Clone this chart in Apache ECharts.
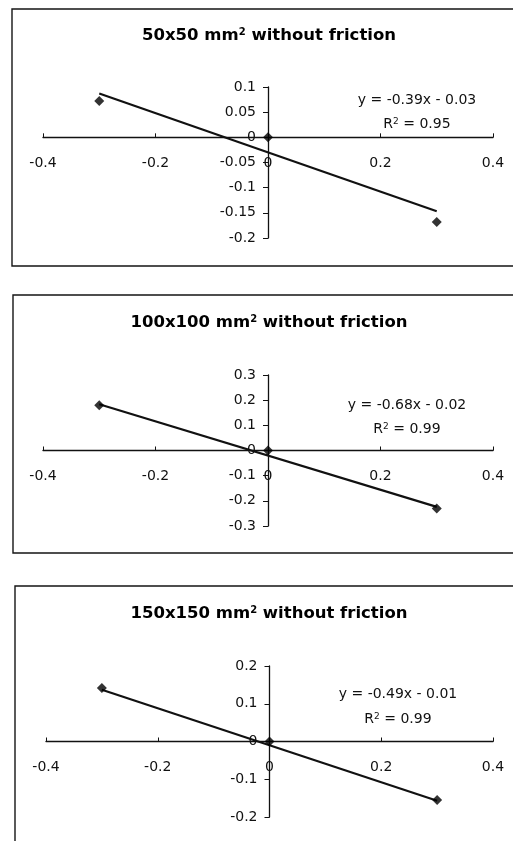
<!DOCTYPE html>
<html><head><meta charset="utf-8">
<script src="https://cdn.jsdelivr.net/npm/echarts@6/dist/echarts.min.js"></script>
<style>html,body{margin:0;padding:0;background:#fff}#c{width:513px;height:841px}</style>
</head><body><div id="c"></div>
<script>
const titles = ['50x50 mm{s|2} without friction', '100x100 mm{s|2} without friction', '150x150 mm{s|2} without friction'];
const eqs = ['y = -0.39x - 0.03', 'y = -0.68x - 0.02', 'y = -0.49x - 0.01'];
const r2s = ['0.95', '0.99', '0.99'];
const pts1 = [[-0.3, 0.072], [0, 0], [0.3, -0.168]];
const pts2 = [[-0.3, 0.18], [0, 0], [0.3, -0.23]];
const pts3 = [[-0.3, 0.142], [0, 0], [0.3, -0.155]];
const trend1 = [[-0.3, 0.087], [0.3, -0.147]];
const trend2 = [[-0.3, 0.184], [0.3, -0.224]];
const trend3 = [[-0.3, 0.137], [0.3, -0.157]];
const xMin = -0.4, xMax = 0.4, xStep = 0.2;
const yRanges = [[-0.2, 0.1, 0.05], [-0.3, 0.3, 0.1], [-0.2, 0.2, 0.1]];

const grids = [
  {left: 43, width: 450, top: 87, height: 151},
  {left: 43, width: 450, top: 375, height: 151},
  {left: 46, width: 447, top: 666, height: 151}
];
const titleCenters = [36, 323, 614];
const eqPos = [[417, 101, 125], [407, 406, 430], [398, 695, 720]];
const boxes = [[12, 9, 560, 257], [13, 295, 560, 258], [15, 586, 560, 300]];
const pts = [pts1, pts2, pts3];
const trends = [trend1, trend2, trend3];
const font = 'DejaVu Sans, sans-serif';

const option = {
  backgroundColor: '#fff',
  animation: false,
  title: [],
  grid: grids,
  xAxis: [], yAxis: [], series: [],
  graphic: boxes.map(b => ({type: 'rect', shape: {x: b[0], y: b[1], width: b[2], height: b[3]}, style: {fill: 'none', stroke: '#151515', lineWidth: 1.4}, z: -1}))
};
for (let i = 0; i < 3; i++) {
  const g = grids[i], yr = yRanges[i];
  option.title.push({
    text: titles[i], left: 269, top: titleCenters[i] - 9, textAlign: 'center', padding: 0,
    textStyle: {fontFamily: font, fontSize: 16.5, fontWeight: 'bold', color: '#000',
      rich: {s: {fontSize: 10, fontWeight: 'bold', verticalAlign: 'top', padding: [0, 0, 8, 0], fontFamily: font, color: '#000'}}}
  });
  option.title.push({
    text: eqs[i], left: eqPos[i][0], top: eqPos[i][1] - 8, textAlign: 'center', padding: 0,
    textStyle: {fontFamily: font, fontSize: 14, fontWeight: 'normal', color: '#111'}
  });
  option.title.push({
    text: 'R{s|2} = ' + r2s[i], left: eqPos[i][0], top: eqPos[i][2] - 8, textAlign: 'center', padding: 0,
    textStyle: {fontFamily: font, fontSize: 14, fontWeight: 'normal', color: '#111',
      rich: {s: {fontSize: 9, verticalAlign: 'top', padding: [0, 0, 6, 0], fontFamily: font, color: '#111'}}}
  });
  option.xAxis.push({
    type: 'value', gridIndex: i, min: xMin, max: xMax, interval: xStep,
    position: 'bottom', offset: -g.height * (0 - yr[0]) / (yr[1] - yr[0]),
    axisLine: {onZero: false, lineStyle: {color: '#111', width: 1.3}},
    axisTick: {inside: true, length: 4, lineStyle: {color: '#111'}},
    axisLabel: {margin: 19, color: '#111', fontSize: 14, fontFamily: font},
    splitLine: {show: false}
  });
  option.yAxis.push({
    type: 'value', gridIndex: i, min: yr[0], max: yr[1], interval: yr[2],
    position: 'left', offset: -g.width * (0 - xMin) / (xMax - xMin),
    axisLine: {show: true, onZero: false, lineStyle: {color: '#111', width: 1.3}},
    axisTick: {show: true, length: 5, lineStyle: {color: '#111'}},
    axisLabel: {margin: 12, color: '#111', fontSize: 14, fontFamily: font},
    splitLine: {show: false}
  });
  option.series.push({
    type: 'line', xAxisIndex: i, yAxisIndex: i, data: trends[i], symbol: 'none',
    lineStyle: {color: '#111', width: 2.2}, z: 3
  });
  option.series.push({
    type: 'scatter', xAxisIndex: i, yAxisIndex: i, data: pts[i], symbol: 'diamond', symbolSize: 10,
    itemStyle: {color: '#000'}, z: 4
  });
}
echarts.init(document.getElementById('c')).setOption(option);
</script></body></html>
